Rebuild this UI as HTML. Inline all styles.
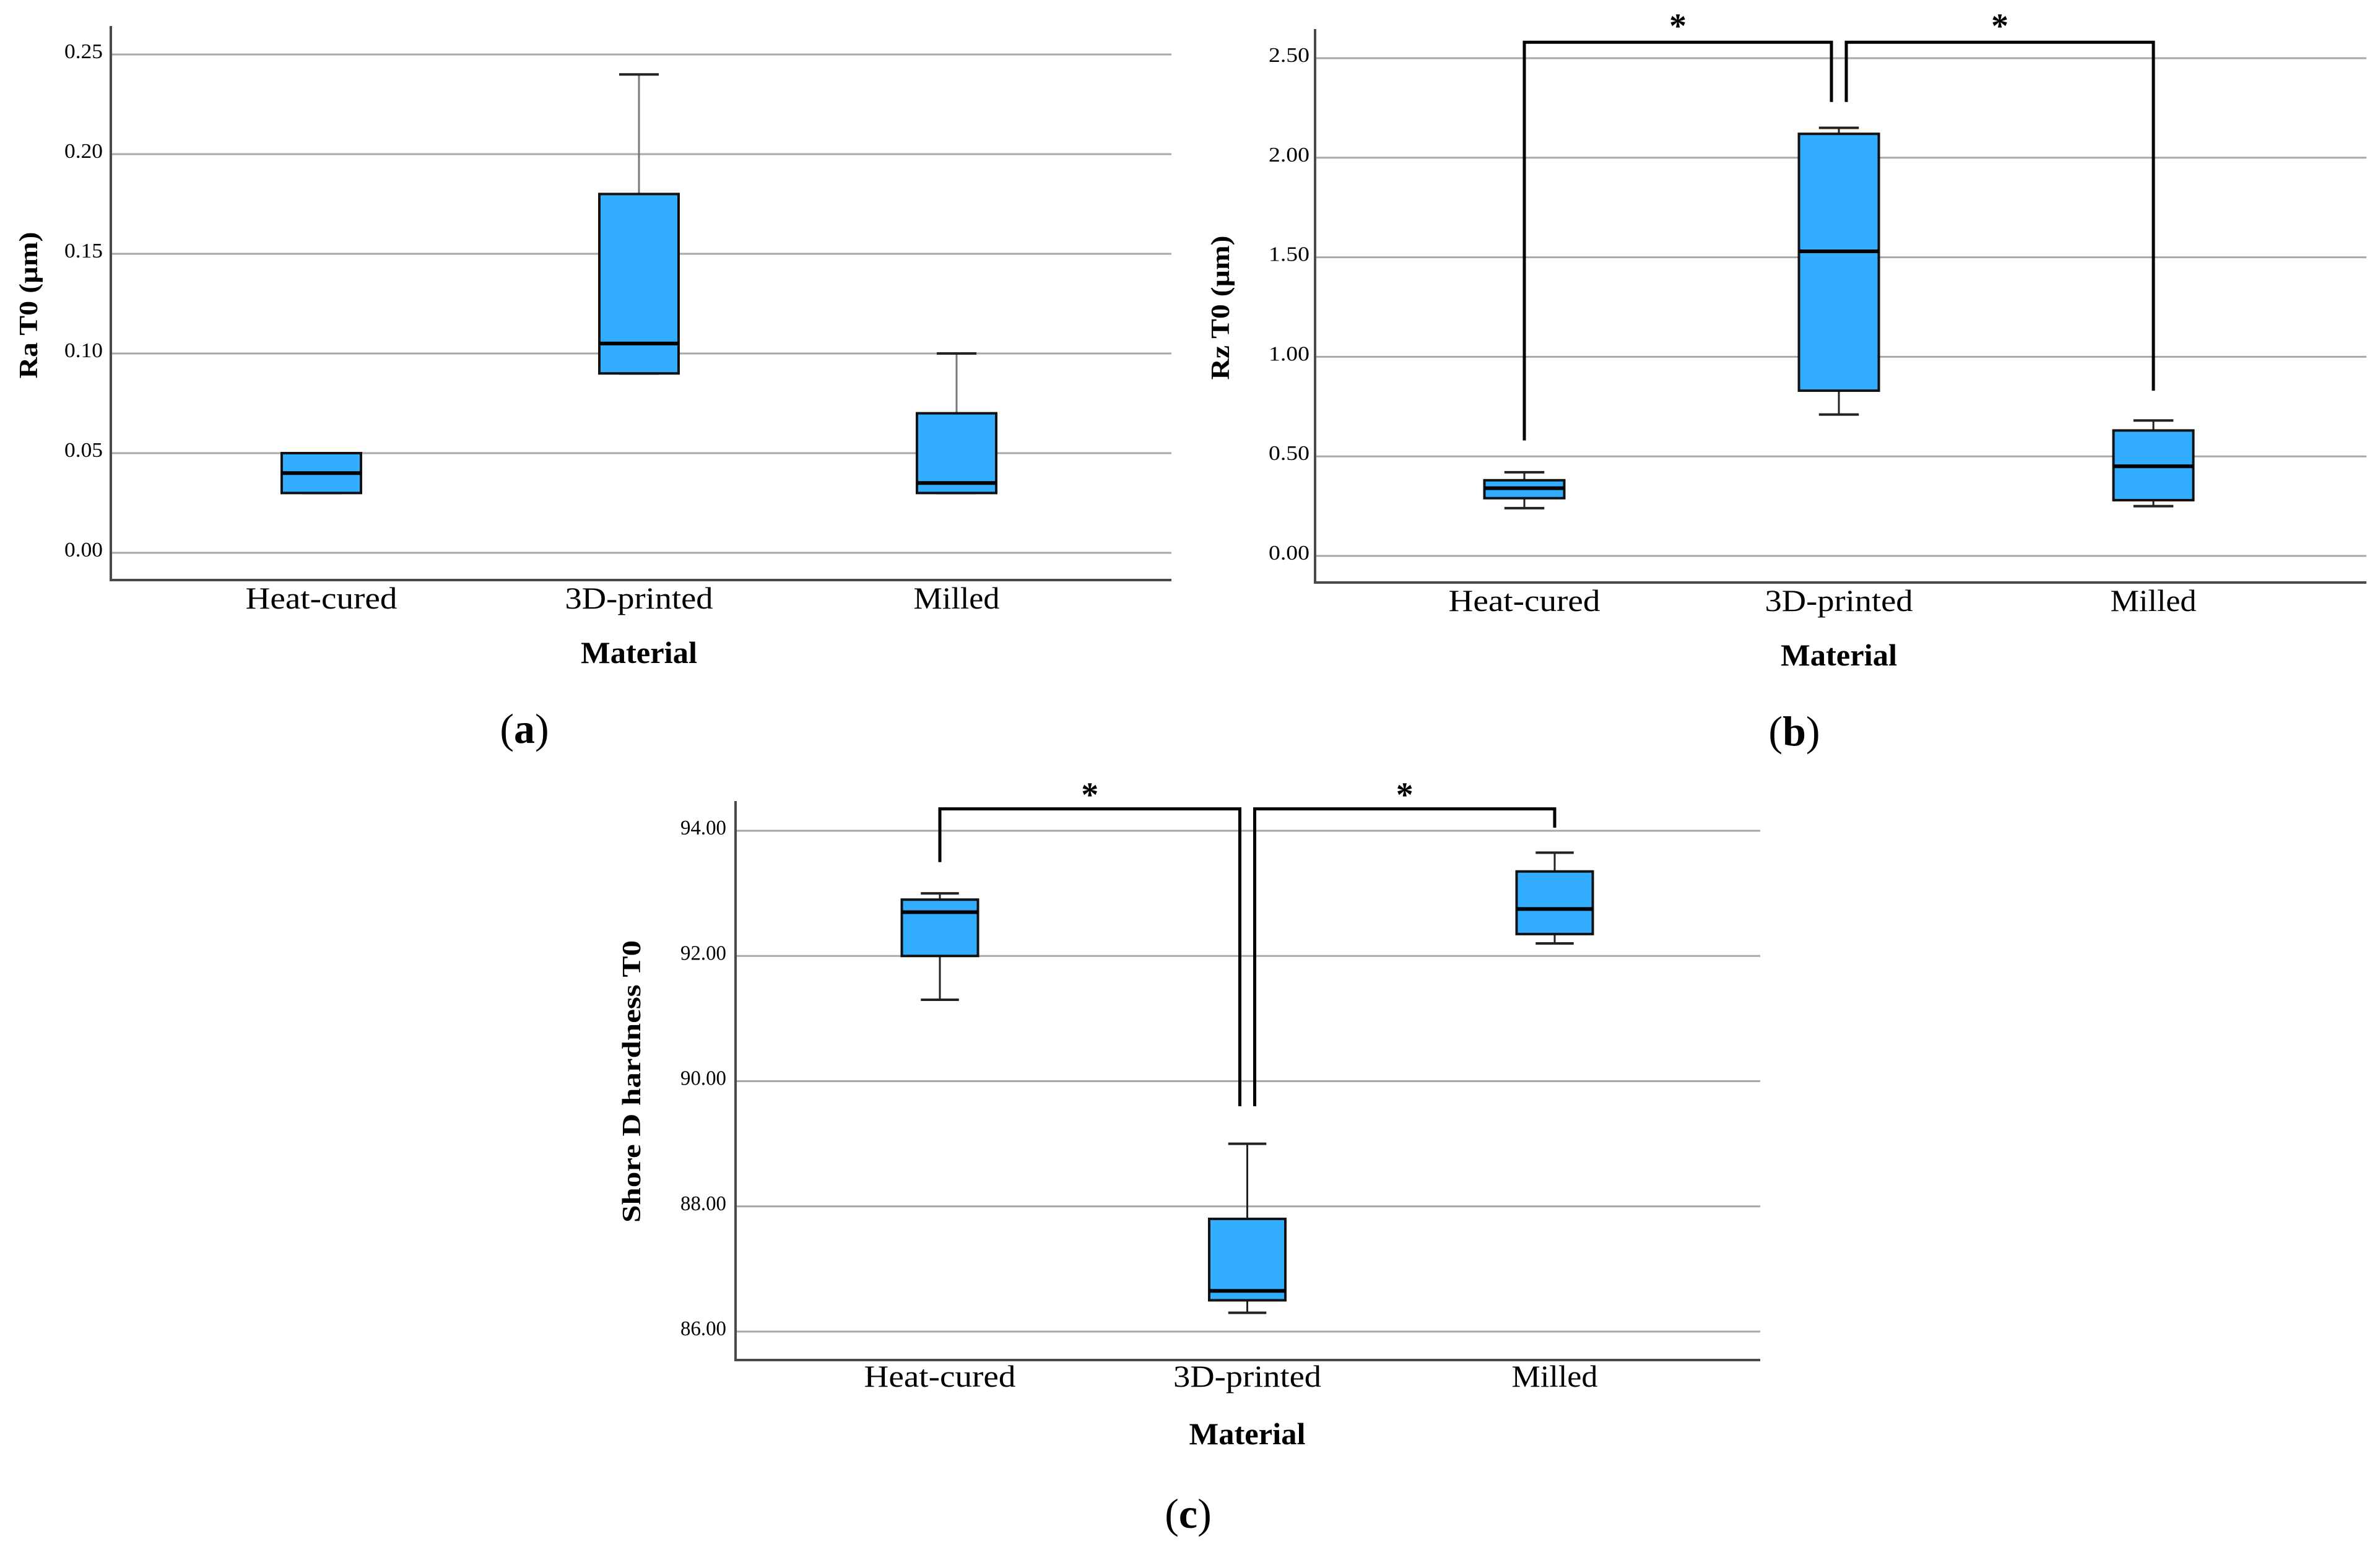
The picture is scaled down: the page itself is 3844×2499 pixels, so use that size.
<!DOCTYPE html>
<html><head><meta charset="utf-8">
<style>
html,body{margin:0;padding:0;background:#fff;}
svg{display:block;}
text{font-family:"Liberation Serif",serif;fill:#000;}
</style></head>
<body>
<svg id="fig" xmlns="http://www.w3.org/2000/svg" width="3844" height="2499" viewBox="0 0 3844 2499">
<rect width="3844" height="2499" fill="#fff"/>
</svg>
<script>
// ---- data ----
const categories = ["Heat-cured", "3D-printed", "Milled"];
// panel a: Ra T0
const raMin = [0.03, 0.09, 0.03];
const raQ1  = [0.03, 0.09, 0.03];
const raMed = [0.04, 0.105, 0.035];
const raQ3  = [0.05, 0.18, 0.07];
const raMax = [0.05, 0.24, 0.10];
const raTicks = [0, 0.05, 0.10, 0.15, 0.20, 0.25];
const raTickLabels = ["0.00", "0.05", "0.10", "0.15", "0.20", "0.25"];
// panel b: Rz T0
const rzMin = [0.24, 0.71, 0.25];
const rzQ1  = [0.29, 0.83, 0.28];
const rzMed = [0.34, 1.53, 0.45];
const rzQ3  = [0.38, 2.12, 0.63];
const rzMax = [0.42, 2.15, 0.68];
const rzTicks = [0, 0.5, 1.0, 1.5, 2.0, 2.5];
const rzTickLabels = ["0.00", "0.50", "1.00", "1.50", "2.00", "2.50"];
// brackets b: [fromCat, toCat, fromEndValue, toEndValue, topValue]
const rzBrackets = [[0, 1, 0.58, 2.28, 2.58], [1, 2, 2.28, 0.83, 2.58]];
// panel c: Shore D
const shMin = [91.3, 86.3, 92.2];
const shQ1  = [92.0, 86.5, 92.35];
const shMed = [92.7, 86.65, 92.75];
const shQ3  = [92.9, 87.8, 93.35];
const shMax = [93.0, 89.0, 93.65];
const shTicks = [86, 88, 90, 92, 94];
const shTickLabels = ["86.00", "88.00", "90.00", "92.00", "94.00"];
const shBrackets = [[0, 1, 93.5, 89.6, 94.35], [1, 2, 89.6, 94.05, 94.35]];

const NS = "http://www.w3.org/2000/svg";
const svg = document.getElementById("fig");
function mk(tag, attrs, parent) {
  const e = document.createElementNS(NS, tag);
  for (const k in attrs) e.setAttribute(k, attrs[k]);
  (parent || svg).appendChild(e);
  return e;
}

function drawPanel(p) {
  const g = mk("g", {});
  
  
  const y = v => p.y0 + (v - p.v0) * (p.y1 - p.y0) / (p.v1 - p.v0);
  const x = i => p.cx0 + i * p.dx;
  p.ticks.forEach((t, i) => {
    const gl = mk("line", {x1: p.axX, x2: p.right, y1: y(t), y2: y(t), stroke: "#a8a8a8", "stroke-width": 3}, g);
    
    
    const tl = mk("text", {x: p.tickRight, y: y(t) + 6, "text-anchor": "end", "font-size": 34, textLength: p.tickW, lengthAdjust: "spacingAndGlyphs"}, g);
    tl.textContent = p.tickLabels[i];
    
    
  });
  const ax = mk("path", {d: `M${p.axX},${p.top} V${p.axY} H${p.right}`, fill: "none", stroke: "#4a4a4a", "stroke-width": 4}, g);
  
  
  categories.forEach((c, i) => {
    const cx = x(i), hw = p.bw / 2, cw = p.bw / 4;
    const wc = p.whiskerColor;
    const w1 = mk("line", {x1: cx, x2: cx, y1: y(p.q3[i]), y2: y(p.max[i]), stroke: wc, "stroke-width": 3}, g);
    
    
    const w2 = mk("line", {x1: cx, x2: cx, y1: y(p.q1[i]), y2: y(p.min[i]), stroke: wc, "stroke-width": 3}, g);
    
    
    const c1 = mk("line", {x1: cx - cw, x2: cx + cw, y1: y(p.max[i]), y2: y(p.max[i]), stroke: "#222", "stroke-width": 4}, g);
    
    
    const c2 = mk("line", {x1: cx - cw, x2: cx + cw, y1: y(p.min[i]), y2: y(p.min[i]), stroke: "#222", "stroke-width": 4}, g);
    
    
    const b = mk("rect", {x: cx - hw, y: y(p.q3[i]), width: p.bw, height: y(p.q1[i]) - y(p.q3[i]), fill: "#33adff", stroke: "#111", "stroke-width": 4}, g);
    
    
    const m = mk("line", {x1: cx - hw, x2: cx + hw, y1: y(p.med[i]), y2: y(p.med[i]), stroke: "#000", "stroke-width": 6}, g);
    
    
    const xl = mk("text", {x: cx, y: p.xlabY, "text-anchor": "middle", "font-size": 50, textLength: p.xlabW[i], lengthAdjust: "spacingAndGlyphs"}, g);
    xl.textContent = c;
    
    
  });
  (p.brackets || []).forEach(bk => {
    const xa = x(bk[0]) + (bk[0] === 1 ? 12 : 0);
    const xb = x(bk[1]) + (bk[1] === 1 ? -12 : 0);
    const br = mk("path", {d: `M${xa},${y(bk[2])} V${y(bk[4])} H${xb} V${y(bk[3])}`, fill: "none", stroke: "#000", "stroke-width": 5}, g);
    
    
    const st = mk("text", {x: (xa + xb) / 2, y: y(bk[4]) + p.starDy, "text-anchor": "middle", "font-size": 56, "font-weight": "bold", "font-family": "Liberation Sans, sans-serif"}, g);
    st.textContent = "*";
    
    
  });
  const xt = mk("text", {x: x(1), y: p.matY, "text-anchor": "middle", "font-size": 50, "font-weight": "bold", textLength: 188, lengthAdjust: "spacingAndGlyphs"}, g);
  xt.textContent = "Material";
  
  
  const yt = mk("text", {x: 0, y: 0, "text-anchor": "middle", "font-size": 42, "font-weight": "bold", textLength: p.ytW, lengthAdjust: "spacingAndGlyphs", transform: `translate(${p.ytX},${p.ytY}) rotate(-90)`}, g);
  yt.textContent = p.yTitle;
  
  
  const pl = mk("text", {x: p.plX, y: p.plY, "text-anchor": "middle", "font-size": 68}, g);
  pl.innerHTML = '(<tspan font-weight="bold">' + p.letter + '</tspan>)';
  
  
}

drawPanel({name: "panel-a-ra", letter: "a", yTitle: "Ra T0 (µm)", min: raMin, q1: raQ1, med: raMed, q3: raQ3, max: raMax,
  ticks: raTicks, tickLabels: raTickLabels, v0: 0, v1: 0.25, y0: 893, y1: 88,
  axX: 179, top: 42, axY: 937, right: 1892, cx0: 519, dx: 513, bw: 128, tickRight: 166, tickW: 62,
  whiskerColor: "#777", xlabY: 983, xlabW: [245, 239, 139], matY: 1071, ytX: 60, ytY: 493, ytW: 237, plX: 847, plY: 1200, starDy: -24});

drawPanel({name: "panel-b-rz", letter: "b", yTitle: "Rz T0 (µm)", min: rzMin, q1: rzQ1, med: rzMed, q3: rzQ3, max: rzMax,
  ticks: rzTicks, tickLabels: rzTickLabels, v0: 0, v1: 2.5, y0: 898, y1: 94,
  axX: 2124, top: 47, axY: 941, right: 3822, cx0: 2462, dx: 508, bw: 129, tickRight: 2115, tickW: 66,
  whiskerColor: "#222", brackets: rzBrackets, xlabY: 987, xlabW: [245, 239, 139], matY: 1075, ytX: 1985, ytY: 497, ytW: 233, plX: 2898, plY: 1204, starDy: -8});

drawPanel({name: "panel-c-shore", letter: "c", yTitle: "Shore D hardness T0", min: shMin, q1: shQ1, med: shMed, q3: shQ3, max: shMax,
  ticks: shTicks, tickLabels: shTickLabels, v0: 86, v1: 94, y0: 2151, y1: 1342,
  axX: 1188, top: 1294, axY: 2197, right: 2843, cx0: 1518, dx: 496.5, bw: 123, tickRight: 1173, tickW: 74,
  whiskerColor: "#222", brackets: shBrackets, xlabY: 2240, xlabW: [245, 239, 139], matY: 2333, ytX: 1034, ytY: 1747, ytW: 456, plX: 1919, plY: 2468, starDy: -4});
</script>
</body></html>
